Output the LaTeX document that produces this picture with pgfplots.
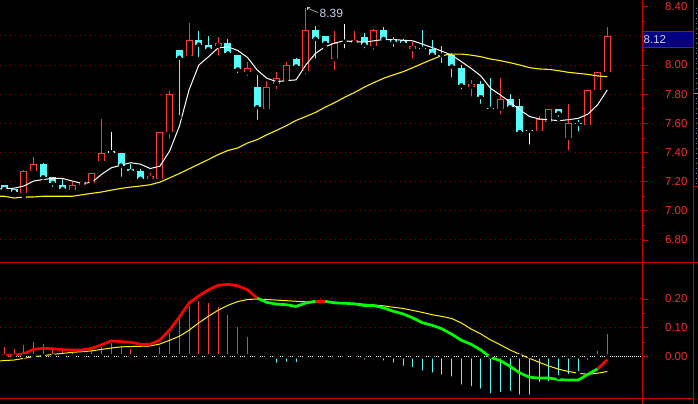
\documentclass[border=0pt]{standalone}
\usepackage{pgfplots}
\pgfplotsset{compat=1.18}
\usepackage{pgfplotstable}
\usepackage{fontspec}
\setmainfont{Liberation Sans}
\definecolor{cred}{RGB}{255,55,55}
\definecolor{ccyan}{RGB}{84,252,252}
\definecolor{axred}{RGB}{200,0,0}
\definecolor{lblred}{RGB}{245,45,45}
\definecolor{gridred}{RGB}{150,0,0}
\definecolor{macdgreen}{RGB}{0,255,0}
\definecolor{navybox}{RGB}{0,0,128}
\definecolor{lbltxt}{RGB}{200,210,235}
\definecolor{sideblue}{RGB}{90,140,210}

\pgfplotsset{
  cbar/.style 2 args={only marks, mark=none, forget plot,
    error bars/.cd, y dir=plus, y explicit, error mark=none,
    error bar style={line width=#2, draw=#1, line cap=butt}},
  panel/.style={scale only axis, anchor=south west, width=642bp,
    xmin=-0.442, xmax=65.57, axis line style={draw=none}, xtick=\empty,
    ytick pos=right, yticklabel pos=right, tick align=outside,
    major tick length=6bp, minor tick length=3bp,
    every tick/.append style={draw=axred, line width=0.8bp},
    yticklabel style={anchor=east, xshift=43bp, text=lblred,
      font=\fontsize{11.5}{12}\selectfont},
    /pgf/number format/assume math mode=true},
}

% candles: x o c h l
\pgfplotstableread{
x o c h l
2 7.12 7.27 7.28 7.10
3 7.27 7.32 7.37 7.27
7 7.14 7.18 7.20 7.13
8 7.18 7.19 7.19 7.165
9 7.19 7.26 7.26 7.17
10 7.34 7.40 7.63 7.34
15 7.22 7.24 7.26 7.21
16 7.22 7.54 7.54 7.22
17 7.54 7.80 7.82 7.48
19 8.06 8.17 8.29 8.03
22 8.13 8.15 8.19 8.05
25 7.95 7.98 8.02 7.91
27 7.70 7.85 7.89 7.70
28 7.87 7.91 7.95 7.82
29 7.90 8.00 8.02 7.90
31 7.96 8.24 8.39 7.92
34 8.04 8.15 8.23 7.95
36 8.15 8.17 8.23 8.14
38 8.13 8.24 8.25 8.09
42 8.11 8.13 8.16 8.03
48 7.85 7.87 7.90 7.77
51 7.70 7.77 7.91 7.65
55 7.55 7.63 7.65 7.54
56 7.61 7.70 7.70 7.58
58 7.50 7.60 7.73 7.40
60 7.59 7.83 7.83 7.58
61 7.83 7.95 7.95 7.82
62 7.95 8.20 8.26 7.95
}\redtab

\pgfplotstableread{
x o c h l
0 7.18 7.15 7.18 7.13
1 7.15 7.13 7.15 7.12
4 7.32 7.23 7.33 7.20
5 7.23 7.19 7.23 7.15
6 7.18 7.15 7.22 7.14
12 7.40 7.31 7.40 7.22
13 7.29 7.27 7.32 7.25
14 7.27 7.22 7.29 7.20
18 8.10 8.05 8.10 7.64
20 8.17 8.14 8.23 8.04
21 8.14 8.11 8.20 8.09
23 8.15 8.08 8.18 8.07
24 8.07 7.97 8.07 7.93
26 7.85 7.71 7.93 7.61
30 8.04 7.99 8.05 7.96
32 8.24 8.18 8.27 8.03
33 8.20 8.15 8.20 8.12
37 8.19 8.14 8.22 8.10
39 8.24 8.18 8.26 8.16
40 8.18 8.16 8.19 8.11
41 8.17 8.15 8.18 8.12
43 8.115 8.11 8.24 8.11
44 8.11 8.07 8.17 8.07
45 8.07 8.065 8.13 8.00
46 8.07 7.99 8.08 7.90
47 7.98 7.86 8.00 7.82
49 7.87 7.78 7.89 7.72
50 7.705 7.70 7.91 7.69
52 7.77 7.71 7.80 7.70
53 7.72 7.54 7.77 7.53
57 7.70 7.67 7.70 7.63
59 7.60 7.595 7.62 7.53
}\cyantab

\pgfplotstableread{
x o c h l
11 7.40 7.40 7.54 7.40
35 8.16 8.16 8.28 8.10
54 7.55 7.55 7.56 7.44
}\whitetab

% moving averages: x white yellow
\pgfplotstableread{
x w y
-0.44 7.151 7.100
0 7.151 7.100
1 7.155 7.088
2 7.170 7.095
3 7.204 7.095
4 7.215 7.100
5 7.222 7.100
6 7.222 7.100
7 7.204 7.100
8 7.188 7.110
9 7.195 7.120
10 7.250 7.129
11 7.295 7.142
12 7.313 7.154
13 7.330 7.163
14 7.320 7.170
15 7.290 7.179
16 7.306 7.197
17 7.410 7.226
18 7.580 7.256
19 7.830 7.288
20 8.000 7.320
21 8.057 7.352
22 8.118 7.386
23 8.125 7.414
24 8.100 7.431
25 8.052 7.465
26 7.966 7.488
27 7.909 7.522
28 7.886 7.552
29 7.893 7.584
30 7.898 7.620
31 8.000 7.647
32 8.080 7.675
33 8.125 7.711
34 8.152 7.743
35 8.166 7.779
36 8.160 7.811
37 8.157 7.848
38 8.166 7.879
39 8.175 7.909
40 8.175 7.932
41 8.170 7.954
42 8.166 7.982
43 8.143 8.011
44 8.120 8.039
45 8.095 8.065
46 8.068 8.075
47 8.023 8.075
48 7.977 8.068
49 7.925 8.057
50 7.840 8.041
51 7.795 8.030
52 7.745 8.016
53 7.693 8.000
54 7.647 7.982
55 7.630 7.973
56 7.625 7.970
57 7.618 7.961
58 7.625 7.950
59 7.634 7.943
60 7.663 7.936
61 7.727 7.925
62 7.829 7.920
}\matab

% MACD: x dif dea hist
\pgfplotstableread{
x dif dea hist
-0.44 0.002 -0.016 0
0 0.003 -0.015 0.031
1 0.004 -0.013 0.025
2 0.009 -0.007 0.038
3 0.024 -0.001 0.050
4 0.028 0.002 0.042
5 0.026 0.007 0.031
6 0.023 0.010 0.020
7 0.022 0.014 0.013
8 0.022 0.016 0.008
9 0.028 0.019 0.017
10 0.040 0.024 0.031
11 0.054 0.029 0.046
12 0.051 0.033 0.035
13 0.049 0.034 0.025
14 0.042 0.035 0.008
15 0.042 0.036 0.002
16 0.057 0.043 0.032
17 0.092 0.056 0.081
18 0.137 0.070 0.132
19 0.186 0.091 0.176
20 0.211 0.117 0.193
21 0.232 0.140 0.187
22 0.248 0.161 0.171
23 0.251 0.178 0.144
24 0.246 0.191 0.101
25 0.232 0.198 0.067
26 0.203 0.200 0.005
27 0.188 0.198 -0.015
28 0.182 0.196 -0.030
29 0.180 0.194 -0.026
30 0.174 0.192 -0.027
31 0.186 0.190 -0.004
32 0.192 0.190 0.003
33 0.192 0.190 0.001
34 0.186 0.189 -0.002
35 0.185 0.186 -0.009
36 0.183 0.184 -0.012
37 0.177 0.182 -0.019
38 0.177 0.179 -0.015
39 0.169 0.176 -0.022
40 0.157 0.171 -0.029
41 0.148 0.167 -0.040
42 0.134 0.160 -0.045
43 0.117 0.153 -0.057
44 0.108 0.145 -0.064
45 0.096 0.139 -0.071
46 0.077 0.132 -0.078
47 0.056 0.116 -0.106
48 0.042 0.095 -0.112
49 0.022 0.078 -0.120
50 -0.004 0.057 -0.137
51 -0.015 0.040 -0.132
52 -0.035 0.022 -0.128
53 -0.058 0.007 -0.141
54 -0.073 -0.007 -0.141
55 -0.076 -0.021 -0.097
56 -0.076 -0.034 -0.094
57 -0.081 -0.045 -0.073
58 -0.083 -0.053 -0.070
59 -0.083 -0.059 -0.059
60 -0.063 -0.063 -0.019
61 -0.044 -0.059 0.020
62 -0.012 -0.053 0.078
}\macdtab

\begin{document}
\begin{tikzpicture}
\fill[black] (0bp,0bp) rectangle (698bp,404bp);
\useasboundingbox (0bp,0bp) rectangle (698bp,404bp);
\clip (0bp,0bp) rectangle (698bp,404bp);

% ---------- price panel ----------
\begin{axis}[panel, at={(0bp,142bp)}, height=262bp,
  ymin=6.649, ymax=8.446,
  ytick={6.8,7.0,7.2,7.4,7.6,7.8,8.0,8.2,8.4},
  yticklabels={6.80,7.00,7.20,7.40,7.60,7.80,8.00,{},8.40},
  minor ytick={6.9,7.1,7.3,7.5,7.7,7.9,8.1,8.3}]
\pgfplotsinvokeforeach{6.8,7.0,7.2,7.4,7.6,7.8,8.0,8.2}{
  \draw[gridred, line width=1bp, dash pattern=on 1bp off 4bp] (axis cs:-0.44,#1) -- (axis cs:65.6,#1);}
% wicks
\addplot[cbar={cred}{1bp}] table[x=x, y=l, y error plus expr=\thisrow{h}-\thisrow{l}] {\redtab};
\addplot[cbar={ccyan}{1bp}] table[x=x, y=l, y error plus expr=\thisrow{h}-\thisrow{l}] {\cyantab};
\addplot[cbar={white}{1bp}] table[x=x, y=l, y error plus expr=\thisrow{h}-\thisrow{l}] {\whitetab};
% bodies
\addplot[cbar={cred}{7bp}] table[x=x, y expr={min(\thisrow{o},\thisrow{c})}, y error plus expr={max(abs(\thisrow{c}-\thisrow{o}),0.007)}] {\redtab};
\addplot[cbar={black}{5bp}] table[x=x, y expr={min(\thisrow{o},\thisrow{c})+0.007}, y error plus expr={max(abs(\thisrow{c}-\thisrow{o})-0.014,0)}] {\redtab};
\addplot[cbar={ccyan}{7bp}] table[x=x, y expr={min(\thisrow{o},\thisrow{c})}, y error plus expr={max(abs(\thisrow{c}-\thisrow{o}),0.007)}] {\cyantab};
\addplot[cbar={white}{7bp}] table[x=x, y expr={min(\thisrow{o},\thisrow{c})}, y error plus expr={0.007}] {\whitetab};
% moving averages
\addplot[yellow, line width=1.1bp, mark=none] table[x=x, y=y] {\matab};
\addplot[white, line width=1bp, mark=none] table[x=x, y=w] {\matab};
\end{axis}

% ---------- MACD panel ----------
\begin{axis}[panel, at={(0bp,5bp)}, height=137bp,
  ymin=-0.149, ymax=0.329,
  ytick={0,0.1,0.2}, yticklabels={0.00,0.10,0.20},
  minor ytick={0.05,0.15}]
\pgfplotsinvokeforeach{0.1,0.2}{
  \draw[gridred, line width=1bp, dash pattern=on 1bp off 4bp] (axis cs:-0.44,#1) -- (axis cs:65.6,#1);}
\draw[white, line width=1bp, dash pattern=on 1bp off 1bp] (axis cs:-0.44,0) -- (axis cs:65.6,0);
\addplot[cbar={cred}{1bp}] table[x=x, y expr=0, y error plus expr={max(\thisrow{hist},0)}] {\macdtab};
\addplot[cbar={ccyan}{1bp}] table[x=x, y expr={min(\thisrow{hist},0)}, y error plus expr={-min(\thisrow{hist},0)}] {\macdtab};
\addplot[yellow, line width=1bp, mark=none] table[x=x, y=dea] {\macdtab};
\addplot[red, line width=2.7bp, mark=none, line join=round, restrict x to domain=-1:26] table[x=x, y=dif] {\macdtab};
\addplot[macdgreen, line width=2.7bp, mark=none, line join=round, restrict x to domain=26:32] table[x=x, y=dif] {\macdtab};
\addplot[red, line width=2.7bp, mark=none, line join=round, restrict x to domain=32:33] table[x=x, y=dif] {\macdtab};
\addplot[macdgreen, line width=2.7bp, mark=none, line join=round, restrict x to domain=33:61] table[x=x, y=dif] {\macdtab};
\addplot[red, line width=2.7bp, mark=none, line join=round, restrict x to domain=61:62] table[x=x, y=dif] {\macdtab};
\end{axis}

% ---------- frame ----------
\draw[axred, line width=1bp] (642bp,0bp) -- (642bp,404bp);
\draw[axred, line width=1bp] (693.5bp,0bp) -- (693.5bp,404bp);
\draw[axred, line width=1bp] (0bp,141.5bp) -- (698bp,141.5bp);
\draw[axred, line width=1bp] (0bp,5bp) -- (693.5bp,5bp);
\draw[axred, line width=1bp] (693.5bp,217.3bp) -- (698bp,217.3bp);
\draw[sideblue, line width=1.5bp, dash pattern=on 1bp off 4bp] (696.5bp,220bp) -- (696.5bp,396bp);
\draw[orange, line width=1bp] (694bp,310bp) -- (698bp,310bp);

% current price box
\filldraw[fill=navybox, draw=axred, line width=0.8bp] (642bp,357bp) rectangle (693.5bp,372.3bp);
\node[anchor=west, inner sep=0pt, text=lbltxt, font=\fontsize{11.5}{12}\selectfont] at (643.5bp,364.6bp) {8.12};

% high annotation
\draw[lbltxt!80!gray, line width=0.6bp] (307bp,394bp) -- (307bp,397bp) -- (310bp,397bp);
\draw[lbltxt!80!gray, line width=0.6bp] (307bp,396bp) -- (318bp,391.5bp);
\node[anchor=west, inner sep=0pt, text=lbltxt, font=\fontsize{12}{13}\selectfont] at (319.5bp,391bp) {8.39};
\end{tikzpicture}
\end{document}
